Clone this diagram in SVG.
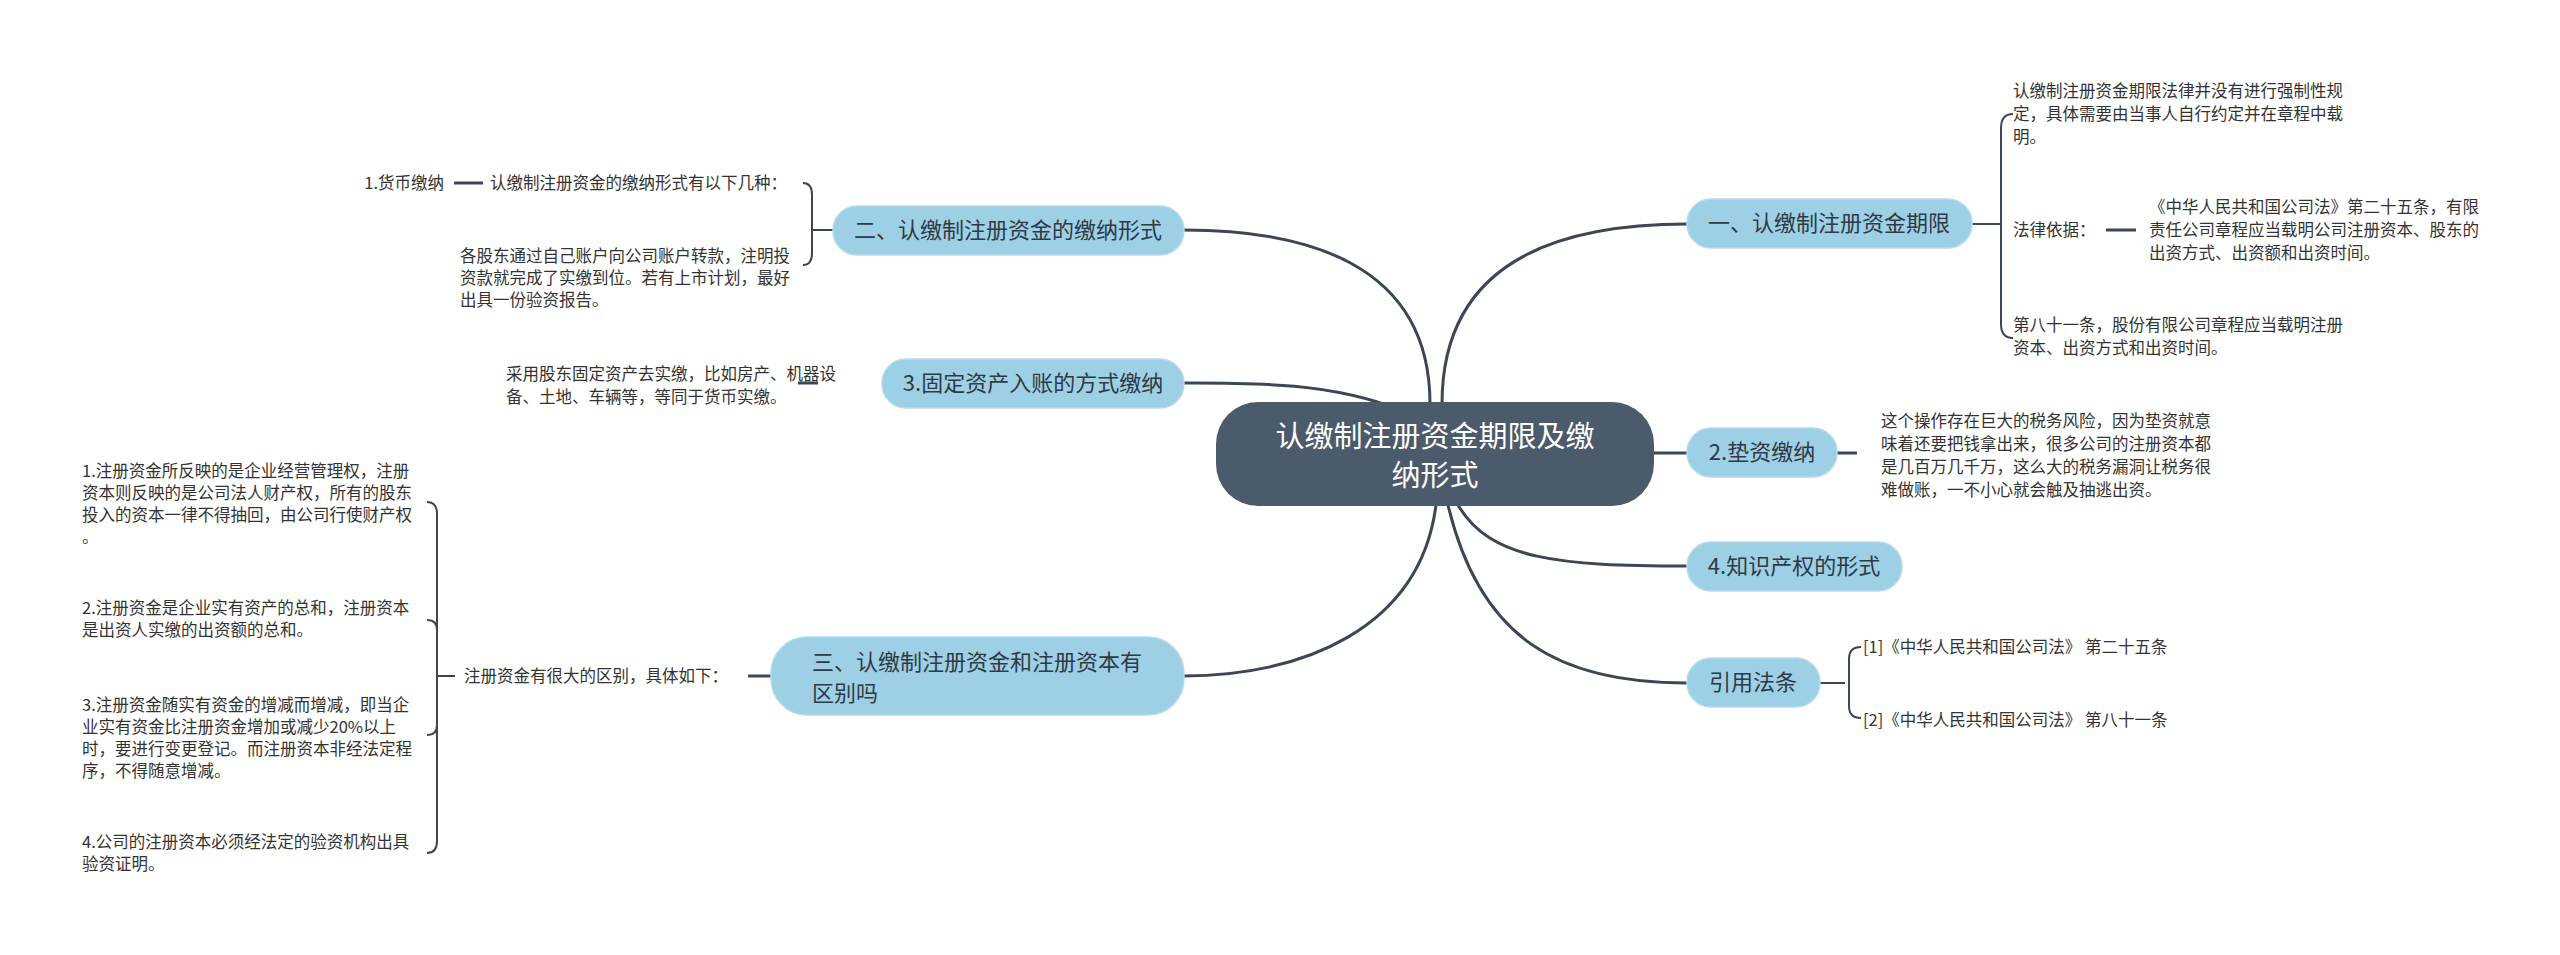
<svg xmlns="http://www.w3.org/2000/svg" width="2560" height="955" viewBox="0 0 2560 955">
<style>
.n{fill:#9dcfe5;stroke:#b5dcee;stroke-width:1.5}
.nt{font-family:"Noto Sans CJK SC","Noto Sans",sans-serif;font-size:22px;fill:#2f3a45}
.t{font-family:"Noto Sans CJK SC","Noto Sans",sans-serif;font-size:16.5px;fill:#333}
.c{fill:none;stroke:#3a4756;stroke-width:3}
.b{fill:none;stroke:#3a4756;stroke-width:2}
</style>
<rect width="2560" height="955" fill="#fff"/>
<g id="connectors">
<path class="c" d="M1430,404 C1430,260 1300,230 1184,230"/>
<path class="c" d="M1442,404 C1442,260 1560,224 1687,224"/>
<path class="c" d="M1400,410 C1330,382 1250,383 1184,383"/>
<path class="c" d="M1654,453 H1687"/>
<path class="c" d="M1458,505 C1490,560 1560,566 1687,566"/>
<path class="c" d="M1448,505 C1480,640 1560,683 1687,683"/>
<path class="c" d="M1436,505 C1420,630 1300,676 1184,676"/>
<path class="b" d="M1972,224 H1989 M2013,114 q-12,0 -12,14 V324 q0,14 12,14 M1989,224 H2001"/>
<path class="c" d="M2106,230 H2136"/>
<path class="c" d="M1837,453 H1857"/>
<path class="b" d="M1820,683 H1845 M1861,647 q-12,0 -12,12 V706 q0,12 12,12"/>
<path class="b" d="M833,230 H812 M803,183 q9,0 9,12 V253 q0,12 -9,12"/>
<path class="c" d="M454,183 H483"/>
<path class="c" d="M798,383 H818"/>
<path class="c" d="M771,676 H748"/>
<path class="b" d="M455,676 H437 M427,502 q10,0 10,12 V841 q0,12 -10,12 M427,620 q10,0 10,10 M427,735 q10,0 10,-10"/>
</g>
<g id="center">
<rect x="1216" y="402" width="438" height="104" rx="42" fill="#4b5b6b"/>
<text x="1435" y="447" text-anchor="middle" font-family="'Noto Sans CJK SC','Noto Sans',sans-serif" font-size="29" fill="#fff">认缴制注册资金期限及缴</text>
<text x="1435" y="486" text-anchor="middle" font-family="'Noto Sans CJK SC','Noto Sans',sans-serif" font-size="29" fill="#fff">纳形式</text>
</g>
<g id="n1">
<rect class="n" x="1687" y="199" width="285" height="49" rx="24"/>
<text class="nt" x="1829" y="231" text-anchor="middle">一、认缴制注册资金期限</text>
<text class="t" x="2013" y="97">认缴制注册资金期限法律并没有进行强制性规</text>
<text class="t" x="2013" y="120">定，具体需要由当事人自行约定并在章程中载</text>
<text class="t" x="2013" y="143">明。</text>
<text class="t" x="2013" y="236">法律依据：</text>
<text class="t" x="2149" y="213">《中华人民共和国公司法》第二十五条，有限</text>
<text class="t" x="2149" y="236">责任公司章程应当载明公司注册资本、股东的</text>
<text class="t" x="2149" y="259">出资方式、出资额和出资时间。</text>
<text class="t" x="2013" y="331">第八十一条，股份有限公司章程应当载明注册</text>
<text class="t" x="2013" y="354">资本、出资方式和出资时间。</text>
</g>
<g id="n2">
<rect class="n" x="1687" y="428" width="150" height="49" rx="24"/>
<text class="nt" x="1762" y="460" text-anchor="middle">2.垫资缴纳</text>
<text class="t" x="1881" y="427">这个操作存在巨大的税务风险，因为垫资就意</text>
<text class="t" x="1881" y="450">味着还要把钱拿出来，很多公司的注册资本都</text>
<text class="t" x="1881" y="473">是几百万几千万，这么大的税务漏洞让税务很</text>
<text class="t" x="1881" y="496">难做账，一不小心就会触及抽逃出资。</text>
</g>
<g id="n4">
<rect class="n" x="1687" y="542" width="215" height="49" rx="24"/>
<text class="nt" x="1794" y="574" text-anchor="middle">4.知识产权的形式</text>
</g>
<g id="nref">
<rect class="n" x="1687" y="658" width="133" height="49" rx="24"/>
<text class="nt" x="1753" y="690" text-anchor="middle">引用法条</text>
<text class="t" x="1863" y="653">[1]《中华人民共和国公司法》 第二十五条</text>
<text class="t" x="1863" y="726">[2]《中华人民共和国公司法》 第八十一条</text>
</g>
<g id="nL1">
<rect class="n" x="833" y="206" width="351" height="49" rx="24"/>
<text class="nt" x="1008" y="238" text-anchor="middle">二、认缴制注册资金的缴纳形式</text>
<text class="t" x="787" y="189" text-anchor="end">认缴制注册资金的缴纳形式有以下几种：</text>
<text class="t" x="444" y="189" text-anchor="end">1.货币缴纳</text>
<text class="t" x="460" y="262">各股东通过自己账户向公司账户转款，注明投</text>
<text class="t" x="460" y="284">资款就完成了实缴到位。若有上市计划，最好</text>
<text class="t" x="460" y="306">出具一份验资报告。</text>
</g>
<g id="nL2">
<rect class="n" x="882" y="359" width="302" height="49" rx="24"/>
<text class="nt" x="1033" y="391" text-anchor="middle">3.固定资产入账的方式缴纳</text>
<text class="t" x="506" y="380">采用股东固定资产去实缴，比如房产、机器设</text>
<text class="t" x="506" y="403">备、土地、车辆等，等同于货币实缴。</text>
</g>
<g id="nL3">
<rect class="n" x="771" y="637" width="413" height="78" rx="36"/>
<text class="nt" x="812" y="670">三、认缴制注册资金和注册资本有</text>
<text class="nt" x="812" y="701">区别吗</text>
<text class="t" x="464" y="682">注册资金有很大的区别，具体如下：</text>
<text class="t" x="82" y="477">1.注册资金所反映的是企业经营管理权，注册</text>
<text class="t" x="82" y="499">资本则反映的是公司法人财产权，所有的股东</text>
<text class="t" x="82" y="521">投入的资本一律不得抽回，由公司行使财产权</text>
<text class="t" x="82" y="543">。</text>
<text class="t" x="82" y="614">2.注册资金是企业实有资产的总和，注册资本</text>
<text class="t" x="82" y="636">是出资人实缴的出资额的总和。</text>
<text class="t" x="82" y="711">3.注册资金随实有资金的增减而增减，即当企</text>
<text class="t" x="82" y="733">业实有资金比注册资金增加或减少20%以上</text>
<text class="t" x="82" y="755">时，要进行变更登记。而注册资本非经法定程</text>
<text class="t" x="82" y="777">序，不得随意增减。</text>
<text class="t" x="82" y="848">4.公司的注册资本必须经法定的验资机构出具</text>
<text class="t" x="82" y="870">验资证明。</text>
</g>
</svg>
